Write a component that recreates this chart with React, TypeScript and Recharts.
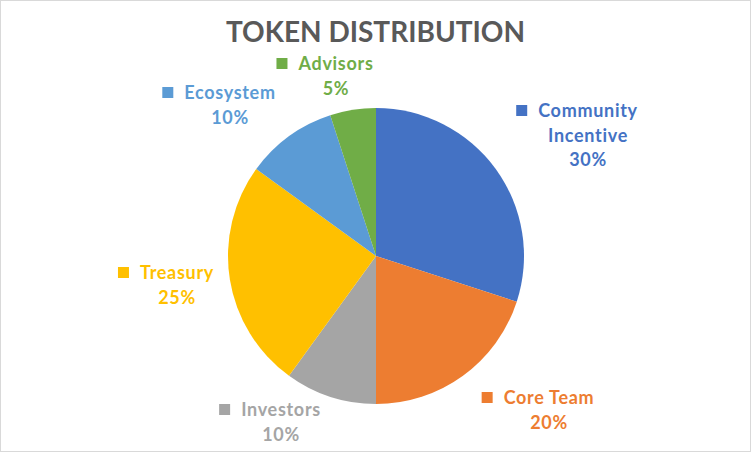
import React, { useLayoutEffect, useRef, useState } from 'react';
import { PieChart, Pie, Cell } from 'recharts';

const categories = ['Community Incentive', 'Core Team', 'Investors', 'Treasury', 'Ecosystem', 'Advisors'];
const shares = [30, 20, 10, 25, 10, 5];
const colors = ['#4472C4', '#ED7D31', '#A5A5A5', '#FFC000', '#5B9BD5', '#70AD47'];

const data = categories.map((name, i) => ({ name, value: shares[i] }));

// where each data label sits, relative to the pie centre (Excel "best fit")
const labelOffset = [
  [212, -139],
  [173, 148],
  [-95, 160],
  [-199, 23],
  [-146, -157],
  [-40, -186],
];

const FONT = 'Lato, "Open Sans", sans-serif';
const LINE = 24.5;

const LabelBlock = (props: any) => {
  const { cx, cy, index, name, value } = props;
  const ref = useRef<SVGTextElement>(null);
  const [w, setW] = useState(0);
  useLayoutEffect(() => {
    if (ref.current) setW(ref.current.getComputedTextLength());
  }, []);
  const [dx, dy] = labelOffset[index];
  const x = cx + dx;
  const y = cy + dy;
  const color = colors[index];
  const lines = name.length > 12 ? name.split(' ') : [name];
  const txt = { textAnchor: 'middle' as const, fill: color, fontFamily: FONT, fontWeight: 700, fontSize: 18, letterSpacing: 0.7 };
  return (
    <g>
      <rect x={x - w / 2 - 22} y={y - 12} width={11} height={11} fill={color} />
      {lines.map((ln: string, i: number) => (
        <text key={i} ref={i === 0 ? ref : undefined} x={x} y={y + i * LINE} {...txt}>
          {ln}
        </text>
      ))}
      <text x={x} y={y + lines.length * LINE} {...txt}>
        {value}%
      </text>
    </g>
  );
};

export default function App() {
  return (
    <div
      style={{
        position: 'absolute',
        left: 0,
        top: 0,
        width: 751,
        height: 452,
        boxSizing: 'border-box',
        border: '1px solid #D9D9D9',
        background: '#fff',
      }}
    >
      <div
        style={{
          position: 'absolute',
          left: 0,
          right: 0,
          top: 10,
          textAlign: 'center',
          fontFamily: FONT,
          fontWeight: 700,
          fontSize: 28,
          color: '#595959',
          lineHeight: '40px',
        }}
      >
        TOKEN DISTRIBUTION
      </div>
      <div style={{ position: 'absolute', left: -1, top: -1 }}>
        <PieChart width={751} height={452} margin={{ top: 0, right: 0, bottom: 0, left: 0 }}>
          <Pie
            data={data}
            dataKey="value"
            nameKey="name"
            cx={376}
            cy={256}
            outerRadius={148}
            startAngle={90}
            endAngle={-270}
            stroke="none"
            labelLine={false}
            label={(p: any) => <LabelBlock {...p} />}
            isAnimationActive={false}
          >
            {data.map((d, i) => (
              <Cell key={d.name} fill={colors[i]} />
            ))}
          </Pie>
        </PieChart>
      </div>
    </div>
  );
}
